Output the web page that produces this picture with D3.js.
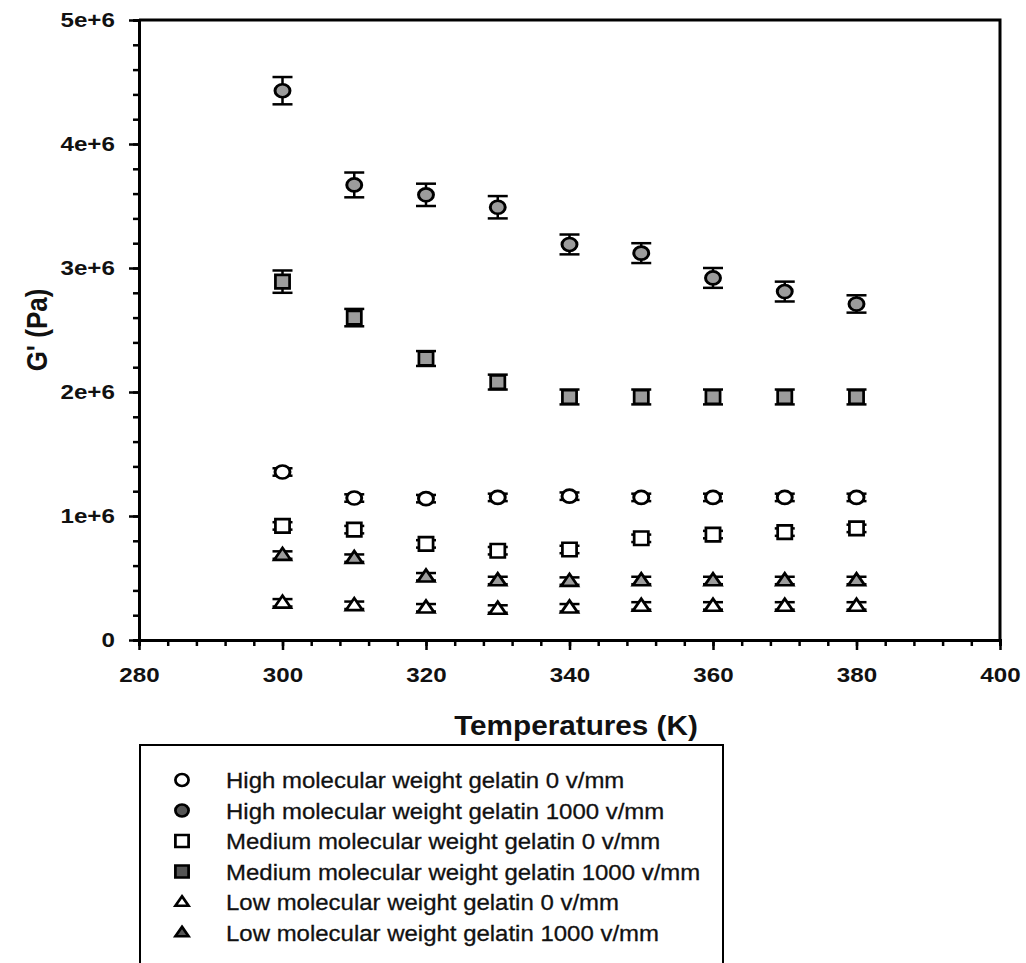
<!DOCTYPE html>
<html>
<head>
<meta charset="utf-8">
<script src="https://cdn.jsdelivr.net/npm/d3@7"></script>
<style>
  html, body { margin: 0; padding: 0; background: #fff; }
  svg { display: block; font-family: "Liberation Sans", Arial, sans-serif; }
</style>
</head>
<body>
<svg id="chart" width="1026" height="963"></svg>
<script>
// temperatures (K)
const temps = [300, 310, 320, 330, 340, 350, 360, 370, 380];

// G' values (Pa)
const highZero = [1.355e6, 1.145e6, 1.14e6, 1.15e6, 1.16e6, 1.15e6, 1.15e6, 1.15e6, 1.15e6];
const highField = [4.43e6, 3.67e6, 3.59e6, 3.49e6, 3.19e6, 3.12e6, 2.92e6, 2.81e6, 2.71e6];
const medZero = [0.92e6, 0.89e6, 0.775e6, 0.72e6, 0.73e6, 0.82e6, 0.85e6, 0.87e6, 0.90e6];
const medField = [2.89e6, 2.60e6, 2.27e6, 2.08e6, 1.96e6, 1.96e6, 1.96e6, 1.96e6, 1.96e6];
const lowZero = [0.30e6, 0.28e6, 0.26e6, 0.25e6, 0.26e6, 0.275e6, 0.275e6, 0.275e6, 0.275e6];
const lowField = [0.685e6, 0.66e6, 0.51e6, 0.48e6, 0.475e6, 0.48e6, 0.48e6, 0.48e6, 0.48e6];

// error bar half-widths (Pa)
const highZeroErr = [0.03e6, 0.03e6, 0.03e6, 0.03e6, 0.03e6, 0.03e6, 0.03e6, 0.03e6, 0.03e6];
const highFieldErr = [0.11e6, 0.1e6, 0.09e6, 0.09e6, 0.08e6, 0.08e6, 0.08e6, 0.08e6, 0.07e6];
const medZeroErr = [0.03e6, 0.03e6, 0.03e6, 0.03e6, 0.03e6, 0.03e6, 0.03e6, 0.03e6, 0.03e6];
const medFieldErr = [0.09e6, 0.07e6, 0.06e6, 0.06e6, 0.06e6, 0.06e6, 0.06e6, 0.06e6, 0.06e6];
const lowZeroErr = [0.03e6, 0.03e6, 0.03e6, 0.03e6, 0.03e6, 0.03e6, 0.03e6, 0.03e6, 0.03e6];
const lowFieldErr = [0.03e6, 0.03e6, 0.03e6, 0.03e6, 0.03e6, 0.03e6, 0.03e6, 0.03e6, 0.03e6];

const xTicks = [280, 300, 320, 340, 360, 380, 400];
const yTicks = [0, 1e6, 2e6, 3e6, 4e6, 5e6];
const yTickLabels = ["0", "1e+6", "2e+6", "3e+6", "4e+6", "5e+6"];

const series = [
  { name: "High molecular weight gelatin 0 v/mm", shape: "circle", filled: false, values: highZero, err: highZeroErr },
  { name: "High molecular weight gelatin 1000 v/mm", shape: "circle", filled: true, values: highField, err: highFieldErr },
  { name: "Medium molecular weight gelatin 0 v/mm", shape: "square", filled: false, values: medZero, err: medZeroErr },
  { name: "Medium molecular weight gelatin 1000 v/mm", shape: "square", filled: true, values: medField, err: medFieldErr },
  { name: "Low molecular weight gelatin 0 v/mm", shape: "triangle", filled: false, values: lowZero, err: lowZeroErr },
  { name: "Low molecular weight gelatin 1000 v/mm", shape: "triangle", filled: true, values: lowField, err: lowFieldErr }
];

const svg = d3.select("#chart");
const plotLeft = 139, plotRight = 1000, plotTop = 20, plotBottom = 640;
const stretch = 1.15; // the scanned figure is a bit wider than tall

const x = d3.scaleLinear().domain([280, 400]).range([plotLeft, plotRight]);
const y = d3.scaleLinear().domain([0, 5e6]).range([plotBottom, plotTop]);

const grayFill = "#9c9c9c";

function markerPath(shape, size) {
  if (shape === "circle") return d3.symbol(d3.symbolCircle, Math.PI * size * size / 4)();
  if (shape === "square") return d3.symbol(d3.symbolSquare, size * size)();
  // triangle, flat base
  const h = size * 0.8;
  return `M0,${-h * 0.6}L${size / 2},${h * 0.4}L${-size / 2},${h * 0.4}Z`;
}

// frame (top and right)
svg.append("path")
  .attr("d", `M${plotLeft},${plotTop}H${plotRight}V${plotBottom}`)
  .attr("fill", "none").attr("stroke", "#000").attr("stroke-width", 3);

// x axis
const xAxis = svg.append("g").attr("transform", `translate(0,${plotBottom})`);
xAxis.call(d3.axisBottom(x).tickValues(d3.range(280, 401, 4)).tickSize(6).tickFormat(""));
xAxis.call(g => g.selectAll(".tick line").attr("stroke-width", 2.5));
xAxis.call(g => g.select(".domain").attr("stroke-width", 3));
const xMajor = svg.append("g").attr("transform", `translate(0,${plotBottom})`);
xMajor.call(d3.axisBottom(x).tickValues(xTicks).tickSize(10).tickPadding(17));
xMajor.call(g => g.select(".domain").remove());
xMajor.call(g => g.selectAll(".tick line").attr("stroke-width", 2.5));
xMajor.selectAll(".tick text")
  .attr("font-size", 21).attr("font-weight", "bold").attr("fill", "#111")
  .attr("transform", `scale(${stretch},1)`);

// y axis
const yAxis = svg.append("g").attr("transform", `translate(${plotLeft},0)`);
yAxis.call(d3.axisLeft(y).tickValues(d3.range(0, 5e6 + 1, 2e5)).tickSize(6).tickFormat(""));
yAxis.call(g => g.selectAll(".tick line").attr("stroke-width", 2.5));
yAxis.call(g => g.select(".domain").attr("stroke-width", 3));
const yMajor = svg.append("g").attr("transform", `translate(${plotLeft},0)`);
yMajor.call(d3.axisLeft(y).tickValues(yTicks).tickSize(10).tickPadding(11)
  .tickFormat((d, i) => yTickLabels[i]));
yMajor.call(g => g.select(".domain").remove());
yMajor.call(g => g.selectAll(".tick line").attr("stroke-width", 2.5));
yMajor.selectAll(".tick text")
  .attr("font-size", 21).attr("font-weight", "bold").attr("fill", "#111")
  .attr("transform", `scale(${stretch},1)`);

// axis titles
svg.append("text")
  .attr("transform", `translate(576,735) scale(1.1,1)`)
  .attr("text-anchor", "middle")
  .attr("font-size", 27).attr("font-weight", "bold").attr("fill", "#111")
  .text("Temperatures (K)");

svg.append("text")
  .attr("transform", `translate(47,${(plotTop + plotBottom) / 2}) scale(1.1,1) rotate(-90)`)
  .attr("text-anchor", "middle")
  .attr("font-size", 26).attr("font-weight", "bold").attr("fill", "#111")
  .text("G' (Pa)");

// data points with error bars
const capHalf = 10;
const markerSize = { circle: 13, square: 13.5, triangle: 15 };
const markerStretch = { circle: 1.15, square: 1.05, triangle: 1.1 };
series.forEach(s => {
  const g = svg.append("g");
  const pts = temps.map((t, i) => ({ t, v: s.values[i], e: s.err[i] }));
  const bars = g.selectAll("g.eb").data(pts).join("g").attr("class", "eb");
  bars.append("line")
    .attr("x1", d => x(d.t)).attr("x2", d => x(d.t))
    .attr("y1", d => y(d.v + d.e)).attr("y2", d => y(d.v - d.e))
    .attr("stroke", "#000").attr("stroke-width", 2.5);
  bars.append("line")
    .attr("x1", d => x(d.t) - capHalf).attr("x2", d => x(d.t) + capHalf)
    .attr("y1", d => y(d.v + d.e)).attr("y2", d => y(d.v + d.e))
    .attr("stroke", "#000").attr("stroke-width", 2.5);
  bars.append("line")
    .attr("x1", d => x(d.t) - capHalf).attr("x2", d => x(d.t) + capHalf)
    .attr("y1", d => y(d.v - d.e)).attr("y2", d => y(d.v - d.e))
    .attr("stroke", "#000").attr("stroke-width", 2.5);
  g.selectAll("path.mk").data(pts).join("path").attr("class", "mk")
    .attr("d", markerPath(s.shape, markerSize[s.shape]))
    .attr("transform", d => `translate(${x(d.t)},${y(d.v)}) scale(${markerStretch[s.shape]},1)`)
    .attr("fill", s.filled ? grayFill : "#fff")
    .attr("stroke", "#000").attr("stroke-width", 2.6);
});

// legend
const legX = 140, legTop = 745, rowGap = 30.5, firstRow = 780;
svg.append("path")
  .attr("d", `M${legX},975V${legTop}H723V975`)
  .attr("fill", "none").attr("stroke", "#000").attr("stroke-width", 2);

const leg = svg.append("g");
series.forEach((s, i) => {
  const cy = firstRow + i * rowGap;
  leg.append("path")
    .attr("d", markerPath(s.shape, 12))
    .attr("transform", `translate(182,${cy}) scale(1.1,1)`)
    .attr("fill", s.filled ? "#555" : "#fff")
    .attr("stroke", "#000").attr("stroke-width", 2.5);
  leg.append("text")
    .attr("transform", `translate(226,${cy + 8}) scale(1.09,1)`)
    .attr("font-size", 22).attr("fill", "#111")
    .attr("stroke", "#111").attr("stroke-width", 0.3)
    .text(s.name);
});
</script>
</body>
</html>
